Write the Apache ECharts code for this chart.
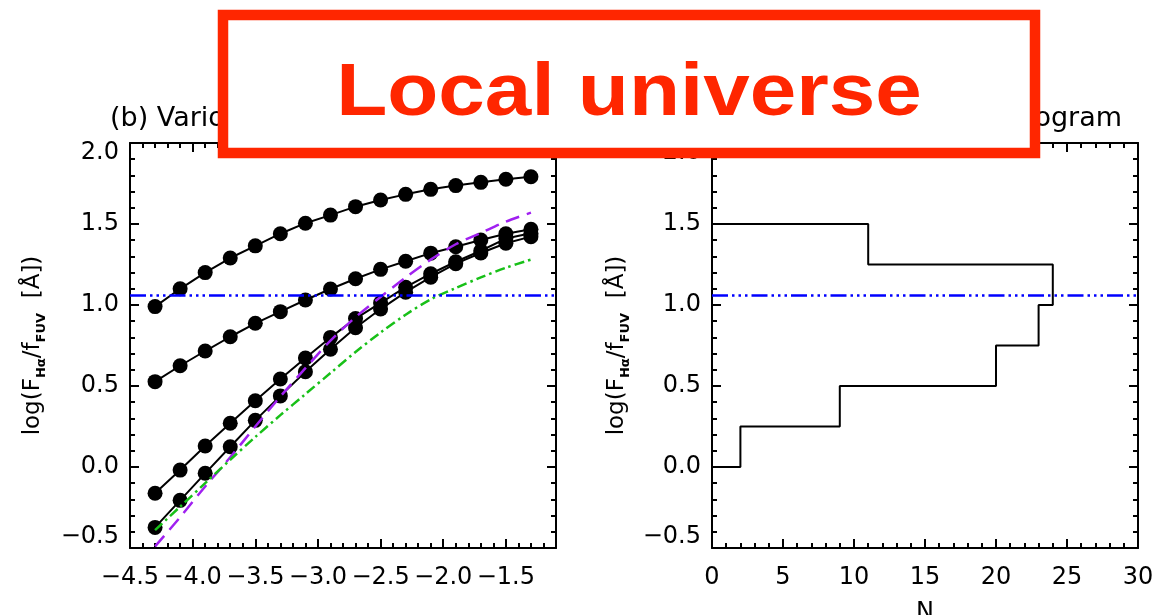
<!DOCTYPE html>
<html><head><meta charset="utf-8">
<script src="https://cdn.jsdelivr.net/npm/echarts@6/dist/echarts.min.js"></script>
<style>html,body{margin:0;padding:0;background:#fff}#c{width:1156px;height:615px}</style>
</head><body><div id="c"></div>
<script>
// ---------- data ----------
const logX = [-4.3,-4.1,-3.9,-3.7,-3.5,-3.3,-3.1,-2.9,-2.7,-2.5,-2.3,-2.1,-1.9,-1.7,-1.5,-1.3];
const modelA = [0.99,1.10,1.20,1.29,1.365,1.44,1.505,1.555,1.607,1.648,1.683,1.714,1.737,1.757,1.776,1.792];
const modelB = [0.527,0.625,0.716,0.804,0.887,0.959,1.031,1.099,1.162,1.220,1.270,1.320,1.360,1.401,1.440,1.467];
const modelC = [-0.162,-0.019,0.130,0.270,0.409,0.543,0.673,0.800,0.916,1.013,1.110,1.193,1.267,1.335,1.410,1.443];
const modelD = [-0.373,-0.206,-0.039,0.125,0.288,0.439,0.588,0.727,0.860,0.975,1.079,1.172,1.255,1.321,1.381,1.422];
const purpleCurve = [-0.49,-0.31,-0.12,0.06,0.25,0.435,0.61,0.78,0.925,1.05,1.17,1.28,1.375,1.445,1.515,1.57];
const greenCurve = [-0.39,-0.245,-0.10,0.045,0.185,0.32,0.45,0.58,0.71,0.83,0.94,1.035,1.105,1.17,1.23,1.28];
const refLevel = 1.057;
const binEdges = [0, 0.25, 0.5, 0.75, 1.0, 1.25, 1.5];
const binCounts = [2, 9, 20, 23, 24, 11];
const leftXTicks = [-4.5,-4.0,-3.5,-3.0,-2.5,-2.0,-1.5];
const yTicks = [-0.5,0.0,0.5,1.0,1.5,2.0];
const rightXTicks = [0,5,10,15,20,25,30];
const leftTitle = '(b) Various models';
const rightTitle = '(c) Histogram';
const bannerText = 'Local universe';

// ---------- helpers ----------
const FONT = 'DejaVu Sans';
const FS = 24;
const pairs = ys => logX.map((x, i) => [x, ys[i]]);
function stepPath(edges, counts) {
  const pts = [[0, edges[0]]];
  counts.forEach((c, i) => { pts.push([c, edges[i]]); pts.push([c, edges[i + 1]]); });
  pts.push([0, edges[edges.length - 1]]);
  return pts;
}
const near = (v, arr) => arr.some(t => Math.abs(t - v) < 1e-6);
const minus = v => (v < 0 ? '\u2212' : '') + Math.abs(v).toFixed(1);

const AX = {color: '#000', width: 2};
const lblStyle = {color: '#000', fontFamily: FONT, fontSize: FS};
const yLabel = {
  color: '#000', fontFamily: FONT, fontSize: FS, margin: 11,
  formatter: v => {
    if (!near(v, yTicks)) return '';
    const s = minus(Math.abs(v) < 1e-9 ? 0 : v);
    if (Math.abs(v - 2.0) < 1e-6) return '{top|' + s + '}';
    if (Math.abs(v + 0.5) < 1e-6) return '{bot|' + s + '}';
    return s;
  },
  rich: {
    top: {fontFamily: FONT, fontSize: FS, color: '#000', padding: [20, 0, 0, 0]},
    bot: {fontFamily: FONT, fontSize: FS, color: '#000', padding: [0, 0, 22, 0]}
  }
};
const yName = '{m|log(F}{s|H\u03b1}{m|/f}{s|FUV}{m|  [\u00c5])}';
const yNameStyle = {
  rich: {
    m: {fontFamily: FONT, fontSize: 23, color: '#000', lineHeight: 30, verticalAlign: 'middle'},
    s: {fontFamily: FONT, fontSize: 13, fontWeight: 'bold', color: '#000', lineHeight: 14, verticalAlign: 'bottom'}
  }
};

function xMajor(grid, pos, min, max, interval, labels, opts) {
  return Object.assign({
    type: 'value', gridIndex: grid, position: pos, min, max, interval,
    axisLine: {show: true, onZero: false, lineStyle: AX},
    axisTick: {show: true, inside: true, length: 9, lineStyle: AX},
    axisLabel: labels ? labels : {show: false},
    splitLine: {show: false}
  }, opts || {});
}
function minorAxis(grid, pos, min, max, interval) {
  return {
    type: 'value', gridIndex: grid, position: pos, min, max, interval,
    axisLine: {show: false, onZero: false},
    axisTick: {show: true, inside: true, length: 5, lineStyle: AX},
    axisLabel: {show: false}, splitLine: {show: false}
  };
}
const minorTick = {show: true, splitNumber: 5, length: 5, lineStyle: AX};

const blueLine = {
  silent: true, symbol: 'none', animation: false,
  label: {show: false},
  lineStyle: {color: '#0000ff', width: 2.5, type: [16, 4, 2.5, 4, 2.5, 4, 2.5, 4]},
  data: [{yAxis: refLevel}]
};

const option = {
  backgroundColor: '#fff',
  animation: false,
  grid: [
    {left: 130, top: 143, width: 426, height: 405, containLabel: false, outerBoundsMode: 'none'},
    {left: 712, top: 143, width: 426, height: 405, containLabel: false, outerBoundsMode: 'none'}
  ],
  xAxis: [
    xMajor(0, 'bottom', -4.5, -1.1, 0.5, Object.assign({}, lblStyle, {
      margin: 18, formatter: v => near(v, leftXTicks) ? minus(v) : ''
    })),
    minorAxis(0, 'bottom', -4.5, -1.1, 0.1),
    xMajor(0, 'top', -4.5, -1.1, 0.5, null),
    minorAxis(0, 'top', -4.5, -1.1, 0.1),
    xMajor(1, 'bottom', 0, 30, 5, Object.assign({}, lblStyle, {
      margin: 18, formatter: v => near(v, rightXTicks) ? String(v) : ''
    }), {minorTick, name: 'N', nameLocation: 'middle', nameGap: 53,
         nameTextStyle: {fontFamily: FONT, fontSize: FS, color: '#000'}}),
    xMajor(1, 'top', 0, 30, 5, null, {minorTick})
  ],
  yAxis: [
    {type: 'value', gridIndex: 0, position: 'left', min: -0.5, max: 2.0, interval: 0.5,
     axisLine: {show: true, onZero: false, lineStyle: AX},
     axisTick: {show: true, inside: true, length: 9, lineStyle: AX},
     minorTick, axisLabel: yLabel, splitLine: {show: false},
     name: yName, nameLocation: 'middle', nameRotate: 90, nameGap: 82, nameTextStyle: yNameStyle},
    {type: 'value', gridIndex: 0, position: 'right', min: -0.5, max: 2.0, interval: 0.5,
     axisLine: {show: true, onZero: false, lineStyle: AX},
     axisTick: {show: true, inside: true, length: 9, lineStyle: AX},
     minorTick, axisLabel: {show: false}, splitLine: {show: false}},
    {type: 'value', gridIndex: 1, position: 'left', min: -0.5, max: 2.0, interval: 0.5,
     axisLine: {show: true, onZero: false, lineStyle: AX},
     axisTick: {show: true, inside: true, length: 9, lineStyle: AX},
     minorTick, axisLabel: yLabel, splitLine: {show: false},
     name: yName, nameLocation: 'middle', nameRotate: 90, nameGap: 80, nameTextStyle: yNameStyle},
    {type: 'value', gridIndex: 1, position: 'right', min: -0.5, max: 2.0, interval: 0.5,
     axisLine: {show: true, onZero: false, lineStyle: AX},
     axisTick: {show: true, inside: true, length: 9, lineStyle: AX},
     minorTick, axisLabel: {show: false}, splitLine: {show: false}}
  ],
  series: [
    ...[modelA, modelB, modelC, modelD].map((ys, k) => ({
      name: 'model' + k, type: 'line', xAxisIndex: 0, yAxisIndex: 0,
      data: pairs(ys), symbol: 'circle', symbolSize: 15,
      itemStyle: {color: '#000'}, lineStyle: {color: '#000', width: 2}, z: 3
    })),
    {name: 'purple', type: 'line', xAxisIndex: 0, yAxisIndex: 0, data: pairs(purpleCurve),
     smooth: 0.3, showSymbol: false, lineStyle: {color: '#a020f0', width: 2.5, type: [14, 8]}, z: 4},
    {name: 'green', type: 'line', xAxisIndex: 0, yAxisIndex: 0, data: pairs(greenCurve),
     smooth: 0.3, showSymbol: false, lineStyle: {color: '#18c018', width: 2.5, type: [10, 4, 2.5, 4]}, z: 4,
     markLine: blueLine},
    {name: 'histogram', type: 'line', xAxisIndex: 4, yAxisIndex: 2, data: stepPath(binEdges, binCounts),
     showSymbol: false, lineStyle: {color: '#000', width: 2}, z: 3, markLine: blueLine}
  ],
  graphic: [
    {type: 'text', x: 110, y: 119, z: 10, style: {text: leftTitle, fontFamily: FONT, fontSize: 27,
      fill: '#000', align: 'left', verticalAlign: 'middle'}},
    {type: 'text', x: 1122, y: 119, z: 10, style: {text: rightTitle, fontFamily: FONT, fontSize: 27,
      fill: '#000', align: 'right', verticalAlign: 'middle'}},
    {type: 'rect', z: 100, shape: {x: 223, y: 15, width: 812, height: 138},
     style: {fill: '#fff', stroke: '#ff2600', lineWidth: 10.5}},
    {type: 'text', z: 101, x: 629, y: 95, scaleX: 1.13,
     style: {text: bannerText, fontFamily: 'Liberation Sans', fontWeight: 'bold', fontSize: 74,
       fill: '#ff2600', align: 'center', verticalAlign: 'middle'}}
  ]
};
const chart = echarts.init(document.getElementById('c'), null, {renderer: 'canvas'});
chart.setOption(option);
</script></body></html>
